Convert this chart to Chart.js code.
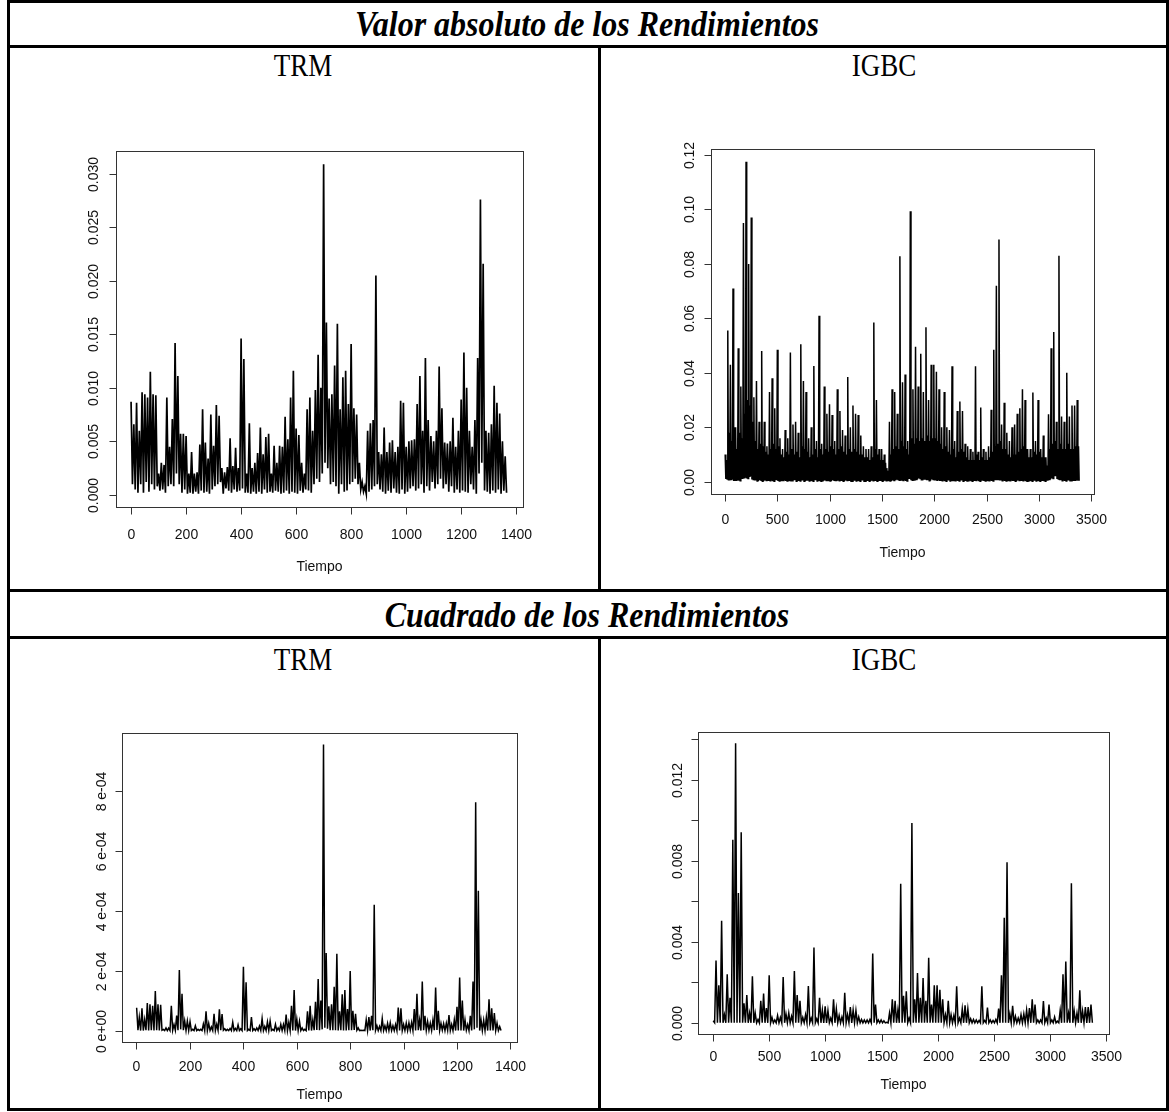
<!DOCTYPE html>
<html>
<head>
<meta charset="utf-8">
<script src="https://cdn.jsdelivr.net/npm/chart.js@4.4.1/dist/chart.umd.min.js"></script>
<style>
  body { margin: 0; background: #fff; }
  #page { position: relative; width: 1169px; height: 1112px; overflow: hidden; background: #fff; }
  .ln { position: absolute; background: #000; }
  .t {
    position: absolute; white-space: nowrap; line-height: 1; color: #000;
    font-family: "Liberation Serif", "Times New Roman", serif;
    transform: translate(-50%, -50%) scaleY(1.15);
  }
  .h { font-size: 32px; font-weight: bold; font-style: italic; }
  .s { font-size: 27px; }
  canvas { position: absolute; }
</style>
</head>
<body>
<div id="page">
  <!-- marco de la tabla -->
  <div class="ln" style="left:7px;top:0;width:1162px;height:3px"></div>
  <div class="ln" style="left:7px;top:1108px;width:1162px;height:3px"></div>
  <div class="ln" style="left:7px;top:0;width:3px;height:1111px"></div>
  <div class="ln" style="left:1166px;top:0;width:3px;height:1111px"></div>
  <div class="ln" style="left:7px;top:45px;width:1162px;height:3px"></div>
  <div class="ln" style="left:7px;top:589px;width:1162px;height:3px"></div>
  <div class="ln" style="left:7px;top:636px;width:1162px;height:3px"></div>
  <div class="ln" style="left:598px;top:46px;width:3px;height:545px"></div>
  <div class="ln" style="left:598px;top:637px;width:3px;height:473px"></div>

  <div class="t h" style="left:587px;top:23px">Valor absoluto de los Rendimientos</div>
  <div class="t s" style="left:303px;top:66px">TRM</div>
  <div class="t s" style="left:884px;top:66px">IGBC</div>
  <div class="t h" style="left:587px;top:614px">Cuadrado de los Rendimientos</div>
  <div class="t s" style="left:303px;top:660px">TRM</div>
  <div class="t s" style="left:884px;top:660px">IGBC</div>

  <canvas id="trmAbsChart" width="582" height="500" style="left:12px;top:86px"></canvas>
  <canvas id="igbcAbsChart" width="558" height="500" style="left:604px;top:86px"></canvas>
  <canvas id="trmSqChart" width="582" height="428" style="left:12px;top:680px"></canvas>
  <canvas id="igbcSqChart" width="558" height="428" style="left:604px;top:680px"></canvas>
</div>

<script>
// Datos. Serie muy densa: por cada tramo (10 días TRM, 25 días IGBC)
// se guarda el máximo, el mínimo y, en IGBC, el borde de la franja negra.
const trmN = 1370;
const igbcN = 3390;

const trmAbsHigh = [
  0.0087, 0.0066, 0.0086, 0.0060, 0.0096, 0.0094, 0.0091, 0.0115, 0.0094, 0.0093,
  0.0020, 0.0030, 0.0028, 0.0091, 0.0045, 0.0071, 0.0142, 0.0111, 0.0057, 0.0057,
  0.0055, 0.0020, 0.0040, 0.0020, 0.0021, 0.0047, 0.0080, 0.0049, 0.0034, 0.0075,
  0.0046, 0.0084, 0.0074, 0.0025, 0.0021, 0.0026, 0.0053, 0.0027, 0.0044, 0.0025,
  0.0146, 0.0127, 0.0020, 0.0067, 0.0025, 0.0030, 0.0039, 0.0063, 0.0038, 0.0054,
  0.0057, 0.0020, 0.0046, 0.0030, 0.0046, 0.0045, 0.0073, 0.0052, 0.0091, 0.0116,
  0.0062, 0.0056, 0.0030, 0.0020, 0.0080, 0.0091, 0.0060, 0.0098, 0.0131, 0.0100,
  0.0309, 0.0161, 0.0090, 0.0094, 0.0121, 0.0160, 0.0080, 0.0110, 0.0116, 0.0085,
  0.0141, 0.0081, 0.0075, 0.0030, 0.0012, 0.0008, 0.0060, 0.0067, 0.0070, 0.0205,
  0.0040, 0.0038, 0.0063, 0.0040, 0.0049, 0.0051, 0.0040, 0.0045, 0.0088, 0.0086,
  0.0045, 0.0050, 0.0051, 0.0052, 0.0085, 0.0111, 0.0060, 0.0128, 0.0070, 0.0055,
  0.0050, 0.0060, 0.0120, 0.0081, 0.0049, 0.0048, 0.0050, 0.0072, 0.0045, 0.0060,
  0.0089, 0.0133, 0.0100, 0.0060, 0.0045, 0.0070, 0.0128, 0.0276, 0.0216, 0.0060,
  0.0058, 0.0066, 0.0102, 0.0086, 0.0076, 0.0050, 0.0036
];
const trmAbsLow = [
  0.0010, 0.0005, 0.0002, 0.0010, 0.0002, 0.0012, 0.0003, 0.0010, 0.0005, 0.0008,
  0.0004, 0.0005, 0.0002, 0.0008, 0.0010, 0.0008, 0.0020, 0.0010, 0.0002, 0.0005,
  0.0001, 0.0002, 0.0001, 0.0003, 0.0001, 0.0004, 0.0002, 0.0003, 0.0001, 0.0005,
  0.0008, 0.0010, 0.0012, 0.0001, 0.0006, 0.0004, 0.0002, 0.0005, 0.0003, 0.0004,
  0.0006, 0.0002, 0.0002, 0.0001, 0.0003, 0.0001, 0.0003, 0.0001, 0.0005, 0.0002,
  0.0003, 0.0002, 0.0004, 0.0003, 0.0001, 0.0002, 0.0004, 0.0001, 0.0003, 0.0002,
  0.0001, 0.0004, 0.0002, 0.0005, 0.0004, 0.0002, 0.0010, 0.0015, 0.0012, 0.0020,
  0.0030, 0.0025, 0.0010, 0.0012, 0.0008, 0.0001, 0.0010, 0.0003, 0.0004, 0.0010,
  0.0012, 0.0015, 0.0010, 0.0005, 0.0003, 0.0001, 0.0003, 0.0005, 0.0008, 0.0010,
  0.0005, 0.0003, 0.0001, 0.0004, 0.0002, 0.0006, 0.0002, 0.0001, 0.0005, 0.0001,
  0.0003, 0.0006, 0.0008, 0.0004, 0.0006, 0.0010, 0.0002, 0.0008, 0.0004, 0.0012,
  0.0006, 0.0010, 0.0015, 0.0006, 0.0010, 0.0003, 0.0008, 0.0002, 0.0005, 0.0002,
  0.0004, 0.0003, 0.0002, 0.0010, 0.0005, 0.0001, 0.0020, 0.0030, 0.0004, 0.0003,
  0.0001, 0.0004, 0.0002, 0.0005, 0.0001, 0.0004, 0.0002
];

const igbcAbsHigh = [
  0.010, 0.0555, 0.043, 0.071, 0.020, 0.049, 0.035, 0.095, 0.1175, 0.080,
  0.097, 0.031, 0.037, 0.022, 0.048, 0.022, 0.013, 0.033, 0.038, 0.027,
  0.0485, 0.016, 0.012, 0.019, 0.016, 0.0475, 0.021, 0.022, 0.018, 0.0505,
  0.037, 0.033, 0.016, 0.020, 0.0425, 0.015, 0.061, 0.014, 0.035, 0.025,
  0.0285, 0.0245, 0.015, 0.034, 0.026, 0.019, 0.017, 0.0385, 0.020, 0.028,
  0.025, 0.0245, 0.017, 0.013, 0.012, 0.012, 0.013, 0.0585, 0.030, 0.012,
  0.012, 0.010, 0.005, 0.022, 0.034, 0.033, 0.025, 0.0828, 0.0365, 0.0394,
  0.015, 0.0993, 0.034, 0.0496, 0.035, 0.047, 0.033, 0.0567, 0.030, 0.043,
  0.043, 0.0404, 0.034, 0.020, 0.033, 0.020, 0.019, 0.0424, 0.015, 0.026,
  0.0295, 0.026, 0.014, 0.013, 0.012, 0.011, 0.0424, 0.011, 0.0273, 0.012,
  0.011, 0.013, 0.0264, 0.0485, 0.072, 0.089, 0.021, 0.029, 0.018, 0.015,
  0.020, 0.021, 0.025, 0.027, 0.034, 0.030, 0.012, 0.012, 0.0328, 0.015,
  0.030, 0.012, 0.017, 0.009, 0.0248, 0.049, 0.055, 0.022, 0.083, 0.024,
  0.022, 0.040, 0.024, 0.028, 0.028, 0.030
];
const igbcAbsCore = [
  0.008, 0.018, 0.015, 0.020, 0.012, 0.018, 0.016, 0.025, 0.030, 0.028,
  0.022, 0.015, 0.012, 0.014, 0.013, 0.011, 0.010, 0.012, 0.014, 0.012,
  0.013, 0.010, 0.009, 0.011, 0.010, 0.012, 0.010, 0.011, 0.009, 0.013,
  0.012, 0.011, 0.009, 0.010, 0.012, 0.009, 0.012, 0.010, 0.012, 0.011,
  0.013, 0.012, 0.010, 0.012, 0.013, 0.011, 0.010, 0.012, 0.011, 0.012,
  0.011, 0.010, 0.010, 0.009, 0.009, 0.008, 0.009, 0.012, 0.010, 0.008,
  0.008, 0.007, 0.004, 0.010, 0.012, 0.013, 0.012, 0.015, 0.013, 0.012,
  0.010, 0.016, 0.014, 0.016, 0.015, 0.016, 0.015, 0.017, 0.015, 0.016,
  0.016, 0.015, 0.014, 0.012, 0.013, 0.011, 0.010, 0.012, 0.009, 0.011,
  0.012, 0.011, 0.009, 0.008, 0.008, 0.008, 0.010, 0.008, 0.009, 0.008,
  0.008, 0.009, 0.011, 0.013, 0.014, 0.015, 0.012, 0.012, 0.010, 0.009,
  0.010, 0.010, 0.011, 0.012, 0.013, 0.012, 0.009, 0.009, 0.011, 0.010,
  0.011, 0.009, 0.009, 0.006, 0.012, 0.014, 0.015, 0.012, 0.014, 0.012,
  0.012, 0.014, 0.012, 0.012, 0.013, 0.013
];
const igbcAbsLow = [
  0.0010, 0.0005, 0.0008, 0.0003, 0.0006, 0.0004, 0.0010, 0.0015, 0.0012, 0.0020,
  0.0008, 0.0005, 0.0003, 0.0006, 0.0002, 0.0005, 0.0003, 0.0004, 0.0002, 0.0006,
  0.0003, 0.0002, 0.0005, 0.0003, 0.0002, 0.0004, 0.0006, 0.0002, 0.0003, 0.0005,
  0.0002, 0.0004, 0.0003, 0.0002, 0.0006, 0.0003, 0.0002, 0.0004, 0.0005, 0.0002,
  0.0003, 0.0006, 0.0002, 0.0004, 0.0003, 0.0002, 0.0005, 0.0003, 0.0002, 0.0004,
  0.0003, 0.0002, 0.0005, 0.0002, 0.0003, 0.0002, 0.0004, 0.0003, 0.0002, 0.0003,
  0.0002, 0.0004, 0.0002, 0.0003, 0.0005, 0.0008, 0.0006, 0.0004, 0.0005, 0.0003,
  0.0010, 0.0006, 0.0004, 0.0008, 0.0012, 0.0005, 0.0010, 0.0006, 0.0004, 0.0008,
  0.0005, 0.0006, 0.0003, 0.0004, 0.0002, 0.0005, 0.0003, 0.0002, 0.0004, 0.0003,
  0.0005, 0.0002, 0.0003, 0.0004, 0.0002, 0.0003, 0.0005, 0.0002, 0.0004, 0.0003,
  0.0002, 0.0004, 0.0003, 0.0006, 0.0008, 0.0005, 0.0004, 0.0003, 0.0002, 0.0004,
  0.0003, 0.0002, 0.0005, 0.0003, 0.0004, 0.0002, 0.0003, 0.0002, 0.0004, 0.0003,
  0.0002, 0.0003, 0.0002, 0.0004, 0.0008, 0.0012, 0.0020, 0.0010, 0.0006, 0.0004,
  0.0003, 0.0005, 0.0004, 0.0003, 0.0006, 0.0004
];

// cuadrados: TRM en unidades de 1e-4, IGBC en unidades de 1e-3
const trmSqHighE4 = [
  0.76, 0.44, 0.74, 0.36, 0.92, 0.88, 0.83, 1.32, 0.88, 0.86,
  0.04, 0.09, 0.08, 0.83, 0.20, 0.50, 2.02, 1.23, 0.32, 0.32,
  0.30, 0.04, 0.16, 0.04, 0.04, 0.22, 0.64, 0.24, 0.12, 0.56,
  0.21, 0.71, 0.55, 0.06, 0.04, 0.07, 0.28, 0.07, 0.19, 0.06,
  2.13, 1.61, 0.04, 0.45, 0.06, 0.09, 0.15, 0.40, 0.14, 0.29,
  0.32, 0.04, 0.21, 0.09, 0.21, 0.20, 0.53, 0.27, 0.83, 1.35,
  0.38, 0.31, 0.09, 0.04, 0.64, 0.83, 0.36, 0.96, 1.72, 1.00,
  9.55, 2.59, 0.81, 0.88, 1.46, 2.56, 0.64, 1.21, 1.35, 0.72,
  1.99, 0.66, 0.56, 0.09, 0.01, 0.01, 0.36, 0.45, 0.49, 4.20,
  0.16, 0.14, 0.40, 0.16, 0.24, 0.26, 0.16, 0.20, 0.77, 0.74,
  0.20, 0.25, 0.26, 0.27, 0.72, 1.23, 0.36, 1.64, 0.49, 0.30,
  0.25, 0.36, 1.44, 0.66, 0.24, 0.23, 0.25, 0.52, 0.20, 0.36,
  0.79, 1.77, 1.00, 0.36, 0.20, 0.49, 1.64, 7.62, 4.67, 0.36,
  0.34, 0.44, 1.04, 0.74, 0.58, 0.25, 0.13
];
const trmSqLowE4 = [
  0.01, 0, 0, 0.01, 0, 0.01, 0, 0.01, 0, 0.01,
  0, 0, 0, 0.01, 0.01, 0.01, 0.04, 0.01, 0, 0,
  0, 0, 0, 0, 0, 0, 0, 0, 0, 0,
  0.01, 0.01, 0.01, 0, 0, 0, 0, 0, 0, 0,
  0, 0, 0, 0, 0, 0, 0, 0, 0, 0,
  0, 0, 0, 0, 0, 0, 0, 0, 0, 0,
  0, 0, 0, 0, 0, 0, 0.01, 0.02, 0.01, 0.04,
  0.09, 0.06, 0.01, 0.01, 0.01, 0, 0.01, 0, 0, 0.01,
  0.01, 0.02, 0.01, 0, 0, 0, 0, 0, 0.01, 0.01,
  0, 0, 0, 0, 0, 0, 0, 0, 0, 0,
  0, 0, 0.01, 0, 0, 0.01, 0, 0.01, 0, 0.01,
  0, 0.01, 0.02, 0, 0.01, 0, 0.01, 0, 0, 0,
  0, 0, 0, 0.01, 0, 0, 0.04, 0.09, 0, 0,
  0, 0, 0, 0, 0, 0, 0
];

const igbcSqHighE3 = [
  0.10, 3.08, 1.85, 5.04, 0.40, 2.40, 1.23, 9.03, 13.8, 6.40,
  9.41, 0.96, 1.37, 0.48, 2.30, 0.48, 0.17, 1.09, 1.44, 0.73,
  2.35, 0.26, 0.14, 0.36, 0.26, 2.26, 0.44, 0.48, 0.32, 2.55,
  1.37, 1.09, 0.26, 0.40, 1.81, 0.23, 3.72, 0.20, 1.23, 0.63,
  0.81, 0.60, 0.23, 1.16, 0.68, 0.36, 0.29, 1.48, 0.40, 0.78,
  0.63, 0.60, 0.29, 0.17, 0.14, 0.14, 0.17, 3.42, 0.90, 0.14,
  0.14, 0.10, 0.03, 0.48, 1.16, 1.09, 0.63, 6.86, 1.33, 1.55,
  0.23, 9.86, 1.16, 2.46, 1.23, 2.21, 1.09, 3.21, 0.90, 1.85,
  1.85, 1.63, 1.16, 0.40, 1.09, 0.40, 0.36, 1.80, 0.23, 0.68,
  0.87, 0.68, 0.20, 0.17, 0.14, 0.12, 1.80, 0.12, 0.75, 0.14,
  0.12, 0.17, 0.70, 2.35, 5.18, 7.92, 0.44, 0.84, 0.32, 0.23,
  0.40, 0.44, 0.63, 0.73, 1.16, 0.90, 0.14, 0.14, 1.08, 0.23,
  0.90, 0.14, 0.29, 0.08, 0.62, 2.40, 3.03, 0.48, 6.89, 0.58,
  0.48, 1.60, 0.58, 0.78, 0.78, 0.90
];
const igbcSqLowE3 = [
  0.001, 0, 0.001, 0, 0, 0, 0.001, 0.002, 0.001, 0.004,
  0.001, 0, 0, 0, 0, 0, 0, 0, 0, 0,
  0, 0, 0, 0, 0, 0, 0, 0, 0, 0,
  0, 0, 0, 0, 0, 0, 0, 0, 0, 0,
  0, 0, 0, 0, 0, 0, 0, 0, 0, 0,
  0, 0, 0, 0, 0, 0, 0, 0, 0, 0,
  0, 0, 0, 0, 0, 0.001, 0, 0, 0, 0,
  0.001, 0, 0, 0.001, 0.001, 0, 0.001, 0, 0, 0.001,
  0, 0, 0, 0, 0, 0, 0, 0, 0, 0,
  0, 0, 0, 0, 0, 0, 0, 0, 0, 0,
  0, 0, 0, 0, 0.001, 0, 0, 0, 0, 0,
  0, 0, 0, 0, 0, 0, 0, 0, 0, 0,
  0, 0, 0, 0, 0.001, 0.001, 0.004, 0.001, 0, 0,
  0, 0, 0, 0, 0, 0
];

// marcas de los ejes
const trmXTicks = [0, 200, 400, 600, 800, 1000, 1200, 1400];
const igbcXTicks = [0, 500, 1000, 1500, 2000, 2500, 3000, 3500];
const trmAbsYTicks = [0, 0.005, 0.010, 0.015, 0.020, 0.025, 0.030];
const trmAbsYLabels = ["0.000", "0.005", "0.010", "0.015", "0.020", "0.025", "0.030"];
const igbcAbsYTicks = [0, 0.02, 0.04, 0.06, 0.08, 0.10, 0.12];
const igbcAbsYLabels = ["0.00", "0.02", "0.04", "0.06", "0.08", "0.10", "0.12"];
const trmSqYTicks = [0, 2e-4, 4e-4, 6e-4, 8e-4];
const trmSqYLabels = ["0 e+00", "2 e-04", "4 e-04", "6 e-04", "8 e-04"];
const igbcSqYTicks = [0, 0.002, 0.004, 0.006, 0.008, 0.010, 0.012, 0.014];
const igbcSqYLabels = ["0.000", "", "0.004", "", "0.008", "", "0.012", ""];

// Ejes al estilo de R: caja, ticks hacia afuera y etiquetas rotadas
const rAxes = {
  id: "rAxes",
  afterDraw(chart, _args, o) {
    const { ctx, chartArea: a, scales } = chart;
    const sx = scales.x, sy = scales.y;
    ctx.save();
    ctx.strokeStyle = "#333";
    ctx.lineWidth = 1;
    ctx.strokeRect(Math.round(a.left) + 0.5, Math.round(a.top) + 0.5,
      Math.round(a.right - a.left), Math.round(a.bottom - a.top));
    ctx.fillStyle = "#111";
    ctx.font = o.font;
    ctx.textAlign = "center";
    ctx.textBaseline = "middle";

    const yb = Math.round(a.bottom) + 0.5;
    const xp = o.xTicks.map((v) => Math.round(sx.getPixelForValue(v)) + 0.5);
    ctx.beginPath();
    ctx.moveTo(xp[0], yb);
    ctx.lineTo(xp[xp.length - 1], yb);
    xp.forEach((p) => { ctx.moveTo(p, yb); ctx.lineTo(p, yb + o.tick); });
    ctx.stroke();
    xp.forEach((p, i) => ctx.fillText(String(o.xTicks[i]), p, a.bottom + o.xLab));
    ctx.fillText("Tiempo", (a.left + a.right) / 2, a.bottom + o.xTitle);

    const xl = Math.round(a.left) + 0.5;
    const yp = o.yTicks.map((v) => Math.round(sy.getPixelForValue(v)) + 0.5);
    ctx.beginPath();
    ctx.moveTo(xl, yp[0]);
    ctx.lineTo(xl, yp[yp.length - 1]);
    yp.forEach((p) => { ctx.moveTo(xl, p); ctx.lineTo(xl - o.tick, p); });
    ctx.stroke();
    yp.forEach((p, i) => {
      if (!o.yLabels[i]) return;
      ctx.save();
      ctx.translate(a.left - o.yLab, p);
      ctx.rotate(-Math.PI / 2);
      ctx.fillText(o.yLabels[i], 0, 0);
      ctx.restore();
    });
    ctx.restore();
  },
};

// rango de R: 4% a cada lado
function rRange(lo, hi) {
  const d = (hi - lo) * 0.04;
  return [lo - d, hi + d];
}

// Recorre cada tramo pasando por los valores leídos (máximo, mínimo, ...)
function binPoints(n, seq, scale) {
  const bins = seq[0].length;
  const w = (n - 1) / bins;
  const pts = [];
  for (let i = 0; i < bins; i++) {
    seq.forEach((arr, k) => {
      pts.push({ x: 1 + i * w + (k * w) / seq.length, y: arr[i] * scale });
    });
  }
  return pts;
}

function drawPanel(id, box, n, points, lineWidth, axes) {
  const canvas = document.getElementById(id);
  const left = parseFloat(canvas.style.left), top = parseFloat(canvas.style.top);
  const pad = {
    left: box[0] - left,
    top: box[1] - top,
    right: left + canvas.width - box[2],
    bottom: top + canvas.height - box[3],
  };
  const ys = points.map((p) => p.y);
  const [xMin, xMax] = rRange(1, n);
  const [yMin, yMax] = rRange(Math.min(...ys), Math.max(...ys));

  new Chart(canvas, {
    type: "line",
    data: {
      datasets: [{
        data: points,
        borderColor: "#000",
        borderWidth: lineWidth,
        pointRadius: 0,
        tension: 0,
        fill: false,
      }],
    },
    options: {
      responsive: false,
      animation: false,
      events: [],
      layout: { padding: pad },
      plugins: {
        legend: { display: false },
        tooltip: { enabled: false },
        rAxes: axes,
      },
      scales: {
        x: { type: "linear", min: xMin, max: xMax, display: false },
        y: { type: "linear", min: yMin, max: yMax, display: false },
      },
    },
    plugins: [rAxes],
  });
}

const font = "14px 'Liberation Sans', Arial, sans-serif";

drawPanel("trmAbsChart", [116, 151, 523, 507], trmN,
  binPoints(trmN, [trmAbsHigh, trmAbsLow], 1), 1.7, {
  font, tick: 7, xTicks: trmXTicks, yTicks: trmAbsYTicks, yLabels: trmAbsYLabels,
  xLab: 28, xTitle: 60, yLab: 22,
});
drawPanel("igbcAbsChart", [711, 149, 1094, 494], igbcN,
  binPoints(igbcN, [igbcAbsHigh, igbcAbsLow, igbcAbsCore, igbcAbsLow], 1), 1.5, {
  font, tick: 7, xTicks: igbcXTicks, yTicks: igbcAbsYTicks, yLabels: igbcAbsYLabels,
  xLab: 26, xTitle: 59, yLab: 21,
});
drawPanel("trmSqChart", [122, 733, 517, 1042], trmN,
  binPoints(trmN, [trmSqHighE4, trmSqLowE4], 1e-4), 1.5, {
  font, tick: 7, xTicks: trmXTicks, yTicks: trmSqYTicks, yLabels: trmSqYLabels,
  xLab: 25, xTitle: 53, yLab: 20,
});
drawPanel("igbcSqChart", [698, 732, 1109, 1034], igbcN,
  binPoints(igbcN, [igbcSqHighE3, igbcSqLowE3], 1e-3), 1.5, {
  font, tick: 7, xTicks: igbcXTicks, yTicks: igbcSqYTicks, yLabels: igbcSqYLabels,
  xLab: 23, xTitle: 51, yLab: 20,
});
</script>
</body>
</html>
